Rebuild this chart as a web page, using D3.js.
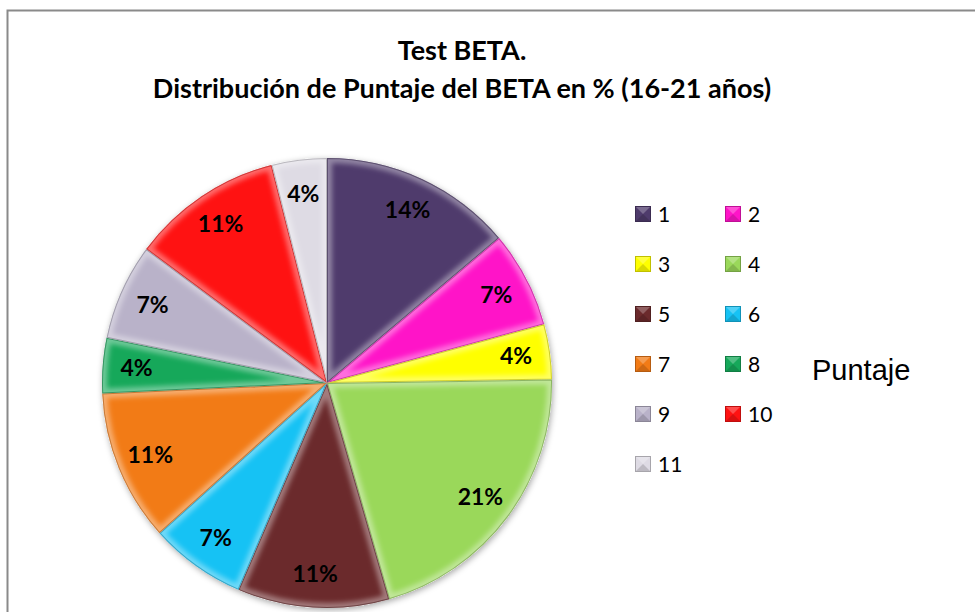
<!DOCTYPE html>
<html>
<head>
<meta charset="utf-8">
<script src="https://cdn.jsdelivr.net/npm/d3@7"></script>
<style>
  html, body { margin: 0; padding: 0; background: #fff; }
  svg { display: block; }
</style>
</head>
<body>
<svg id="chart" width="975" height="612"></svg>
<script>
// Puntaje categories of the BETA test and their share (%)
const categories = ["1", "2", "3", "4", "5", "6", "7", "8", "9", "10", "11"];
const values = [14, 7, 4, 21, 11, 7, 11, 4, 7, 11, 4];
const colors = ["#4f3b6c", "#ff14c8", "#ffff00", "#9ad85a", "#6b2a2c", "#16c2f4",
                "#f27b16", "#16a85a", "#b9b2c9", "#ff1212", "#dedbe4"];
const titleLines = ["Test BETA.", "Distribución de Puntaje del BETA en % (16-21 años)"];
const legendTitle = "Puntaje";

const svg = d3.select("#chart");
const W = 975, H = 612;

// chart frame
svg.append("rect")
  .attr("x", 7.5).attr("y", 10.5)
  .attr("width", W + 10).attr("height", H + 10)
  .attr("fill", "#fff").attr("stroke", "#8a8a8a").attr("stroke-width", 2);

// title
const title = svg.append("text")
  .attr("text-anchor", "middle")
  .attr("font-family", "Lato, 'Open Sans', sans-serif")
  .attr("font-weight", "bold")
  .attr("font-size", 27)
  .attr("fill", "#000");
titleLines.forEach((t, i) => {
  title.append("tspan").attr("x", 462).attr("y", 60 + i * 38).text(t);
});

// filters: outer shadow for the pie, blur for the bevel highlight
const defs = svg.append("defs");
const shadow = defs.append("filter").attr("id", "pieShadow")
  .attr("x", "-10%").attr("y", "-10%").attr("width", "120%").attr("height", "120%");
shadow.append("feDropShadow")
  .attr("dx", 1).attr("dy", 2).attr("stdDeviation", 3)
  .attr("flood-color", "#000").attr("flood-opacity", 0.35);
const soft = defs.append("filter").attr("id", "soft")
  .attr("x", "-20%").attr("y", "-20%").attr("width", "140%").attr("height", "140%");
soft.append("feGaussianBlur").attr("stdDeviation", 2.5);

// pie
const cx = 327, cy = 383, R = 225;
const pie = d3.pie().sort(null).value(d => d);
const arcs = pie(values);
const arc = d3.arc().innerRadius(0).outerRadius(R);
const labelArc = d3.arc().innerRadius(191).outerRadius(191);

const g = svg.append("g").attr("transform", `translate(${cx},${cy})`);

// shadow under the whole disc
g.append("circle").attr("r", R).attr("fill", "#fff").attr("filter", "url(#pieShadow)");

arcs.forEach((a, i) => {
  const clipId = "clip" + i;
  defs.append("clipPath").attr("id", clipId)
    .append("path").attr("d", arc(a)).attr("transform", `translate(${cx},${cy})`);
  g.append("path").attr("d", arc(a)).attr("fill", colors[i]);
  // soft bevel: blurred light rim just inside the slice edges
  const sc = svg.append("g").attr("clip-path", `url(#${clipId})`);
  sc.append("path")
    .attr("transform", `translate(${cx},${cy})`)
    .attr("d", arc(a))
    .attr("fill", "none")
    .attr("stroke", "#fff")
    .attr("stroke-opacity", 0.38)
    .attr("stroke-width", 10)
    .attr("filter", "url(#soft)");
  sc.append("path")
    .attr("transform", `translate(${cx},${cy})`)
    .attr("d", arc(a))
    .attr("fill", "none")
    .attr("stroke", d3.color(colors[i]).darker(1.2))
    .attr("stroke-opacity", 0.55)
    .attr("stroke-width", 2);
});

// value labels
const labels = svg.append("g").attr("transform", `translate(${cx},${cy})`);
arcs.forEach((a, i) => {
  const [x, y] = labelArc.centroid(a);
  labels.append("text")
    .attr("x", x).attr("y", y)
    .attr("dy", "0.35em")
    .attr("text-anchor", "middle")
    .attr("font-family", "Lato, 'Open Sans', sans-serif")
    .attr("font-weight", "bold")
    .attr("font-size", 23)
    .attr("fill", "#000")
    .text(values[i] + "%");
});

// legend
const legend = svg.append("g");
categories.forEach((c, i) => {
  const col = i % 2, row = Math.floor(i / 2);
  const x = 635 + col * 90, y = 206 + row * 50;
  const item = legend.append("g").attr("transform", `translate(${x},${y})`);
  item.append("rect").attr("width", 16).attr("height", 16).attr("fill", colors[i]);
  // small pyramid facets on the swatch
  item.append("path").attr("d", "M0,0L16,0L8,8Z").attr("fill", "#fff").attr("opacity", 0.25);
  item.append("path").attr("d", "M0,16L16,16L8,8Z").attr("fill", "#000").attr("opacity", 0.15);
  item.append("rect").attr("x", 0.5).attr("y", 0.5).attr("width", 15).attr("height", 15)
    .attr("fill", "none").attr("stroke", d3.color(colors[i]).darker(0.8)).attr("stroke-width", 1);
  item.append("text")
    .attr("x", 23).attr("y", 16)
    .attr("font-family", "Lato, 'Open Sans', sans-serif")
    .attr("font-size", 21)
    .attr("fill", "#000")
    .text(c);
});

svg.append("text")
  .attr("x", 812).attr("y", 380)
  .attr("font-family", "'Liberation Sans', Arial, sans-serif")
  .attr("font-size", 29)
  .attr("fill", "#000")
  .text(legendTitle);
</script>
</body>
</html>
